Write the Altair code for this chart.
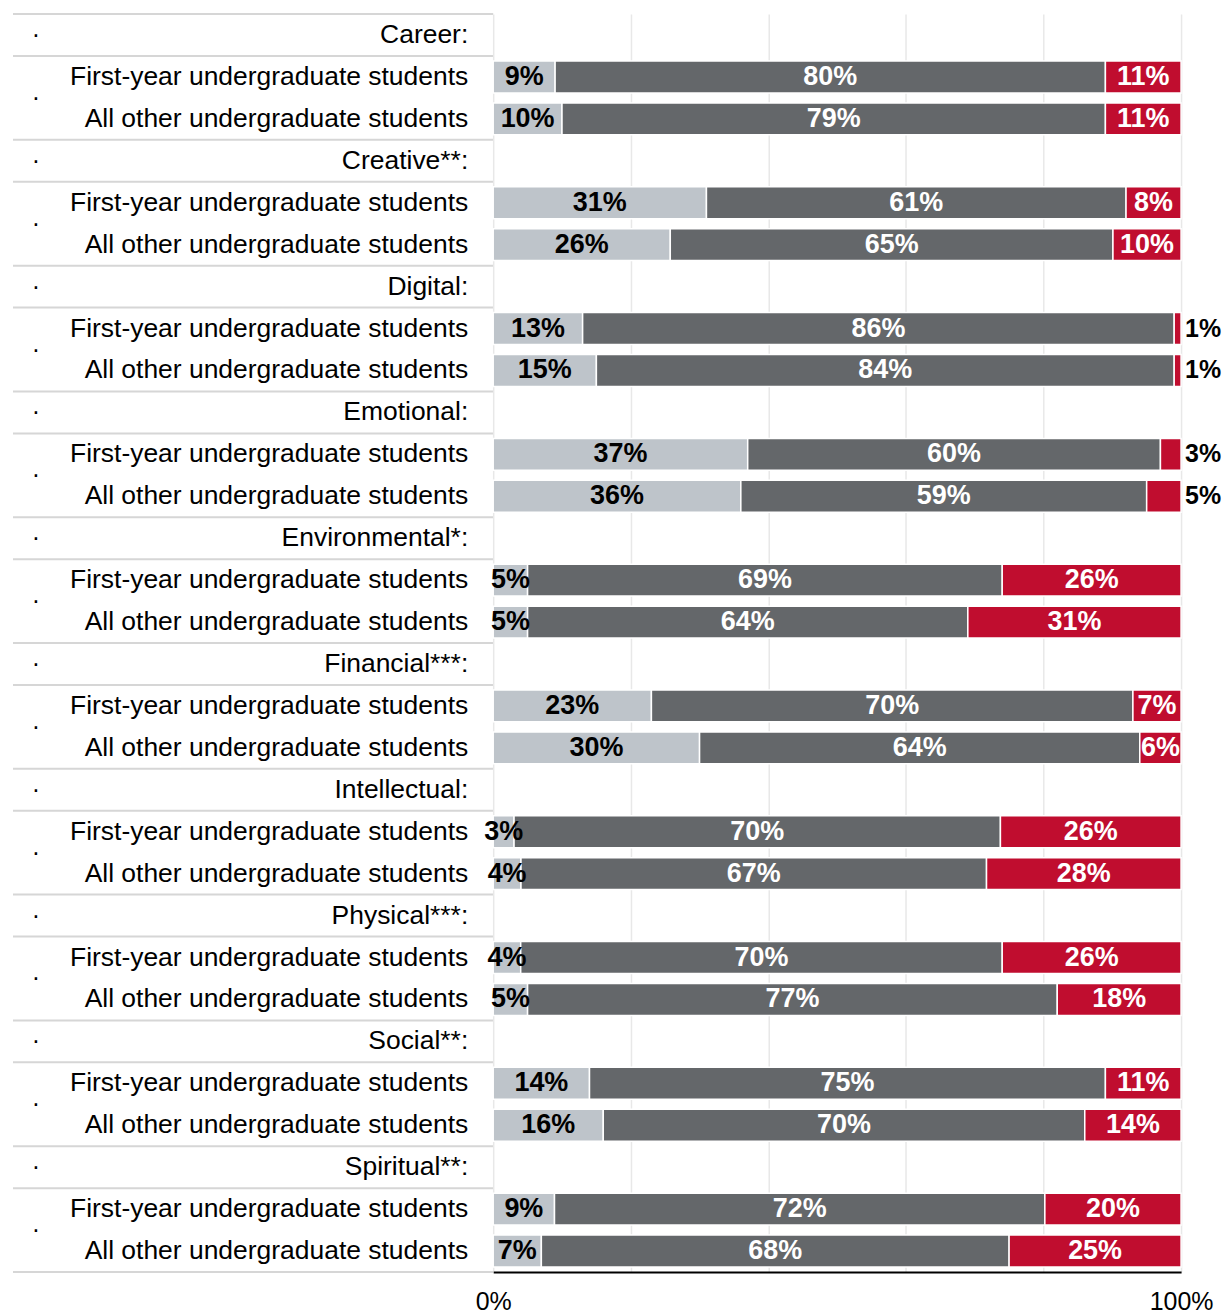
import altair as alt
import pandas as pd

FONT = "Liberation Sans"

categories = ["Career:", "Creative**:", "Digital:", "Emotional:", "Environmental*:",
              "Financial***:", "Intellectual:", "Physical***:", "Social**:", "Spiritual**:"]
groups = ["First-year undergraduate students", "All other undergraduate students"]
segments = ["Segment 1", "Segment 2", "Segment 3"]
seg_colors = ["#bec4ca", "#64676a", "#c00d2f"]

light_fy = [9, 31, 13, 37, 5, 23, 3, 4, 14, 9]
mid_fy = [80, 61, 86, 60, 69, 70, 70, 70, 75, 72]
red_fy = [11, 8, 1, 3, 26, 7, 26, 26, 11, 20]
light_ao = [10, 26, 15, 36, 5, 30, 4, 5, 16, 7]
mid_ao = [79, 65, 84, 59, 64, 64, 67, 77, 70, 68]
red_ao = [11, 10, 1, 5, 31, 6, 28, 18, 14, 25]

series = [(light_fy, mid_fy, red_fy), (light_ao, mid_ao, red_ao)]

label_rows, bar_rows, dot_rows, bound_rows = [], [], [], []
for k, cat in enumerate(categories):
    base = 3 * k
    label_rows.append(dict(row=base, label=cat))
    dot_rows.append(dict(pos=base + 0.5))
    dot_rows.append(dict(pos=base + 2))
    bound_rows.append(dict(b=base))
    bound_rows.append(dict(b=base + 1))
    for g, grp in enumerate(groups):
        r = base + 1 + g
        label_rows.append(dict(row=r, label=grp))
        for s in range(3):
            bar_rows.append(dict(row=r, seg=segments[s], order=s, value=series[g][s][k]))
n_rows = 3 * len(categories)
bound_rows.append(dict(b=n_rows))

labels_df = pd.DataFrame(label_rows)
bars_df = pd.DataFrame(bar_rows)
dots_df = pd.DataFrame(dot_rows)
bounds_df = pd.DataFrame(bound_rows)

LEFT_W = 481
RIGHT_W = 689
H = 1260

yq = alt.Scale(domain=[0, n_rows], reverse=True, nice=False, zero=False)

rules = alt.Chart(bounds_df).mark_rule(color="#d6d6d6", strokeWidth=2).encode(
    y=alt.Y("b:Q", scale=yq, axis=None),
    x=alt.value(0), x2=alt.value(LEFT_W),
)
texts = alt.Chart(labels_df).transform_calculate(yc="datum.row + 0.5").mark_text(
    align="right", baseline="middle", fontSize=26.5, font=FONT, color="black"
).encode(
    x=alt.value(LEFT_W - 25),
    y=alt.Y("yc:Q", scale=yq, axis=None),
    text="label:N",
)
dots = alt.Chart(dots_df).mark_text(
    align="center", baseline="middle", fontSize=25, font=FONT, color="black"
).encode(
    x=alt.value(23),
    y=alt.Y("pos:Q", scale=yq, axis=None),
    text=alt.value("·"),
)
left = alt.layer(rules, texts, dots).properties(width=LEFT_W, height=H)

yband = alt.Y("row:O", scale=alt.Scale(domain=list(range(n_rows)), paddingInner=0.24,
                                       paddingOuter=0.12), axis=None)
xaxis = alt.Axis(
    values=[0, 0.2, 0.4, 0.6, 0.8, 1.0], format=".0%",
    labelExpr="datum.value == 0 || datum.value == 1 ? datum.label : ''",
    title=None, grid=True, gridColor="#e8e8e8", gridWidth=1.5,
    domainColor="black", domainWidth=2, ticks=False,
    labelFontSize=25, labelFont=FONT, labelColor="black", labelPadding=18,
    labelFlush=False,
)

stacked = alt.Chart(bars_df).transform_stack(
    stack="value", groupby=["row"], as_=["x0", "x1"], offset="normalize",
    sort=[alt.SortField("order", "ascending")],
)
bars = stacked.mark_bar(stroke="white", strokeWidth=1.5).encode(
    x=alt.X("x0:Q", scale=alt.Scale(domain=[0, 1], nice=False), axis=xaxis),
    x2="x1:Q",
    y=yband,
    color=alt.Color("seg:N", scale=alt.Scale(domain=segments, range=seg_colors), legend=None),
)
with_calc = stacked.transform_calculate(
    mid="(datum.x0 + datum.x1) / 2",
    txt="datum.value + '%'",
    outside="datum.order == 2 && datum.value <= 5",
    tcolor="datum.order == 0 ? 'black' : 'white'",
)
lbl_in = with_calc.transform_filter("!datum.outside").mark_text(
    align="center", baseline="middle", fontSize=27, fontWeight="bold", font=FONT
).encode(
    x="mid:Q", y=yband, text="txt:N", color=alt.Color("tcolor:N", scale=None),
)
lbl_out = with_calc.transform_filter("datum.outside").mark_text(
    align="left", baseline="middle", fontSize=25, fontWeight="bold", font=FONT,
    color="black", dx=4,
).encode(
    x="x1:Q", y=yband, text="txt:N",
)
right = alt.layer(bars, lbl_in, lbl_out).properties(width=RIGHT_W, height=H)

chart = alt.hconcat(left, right, spacing=0, bounds="flush").properties(
    padding={"left": 4, "top": 4, "right": 0, "bottom": 0}
).configure_view(stroke=None)

chart.save("out.html", embed_options={"renderer": "svg", "actions": False})
